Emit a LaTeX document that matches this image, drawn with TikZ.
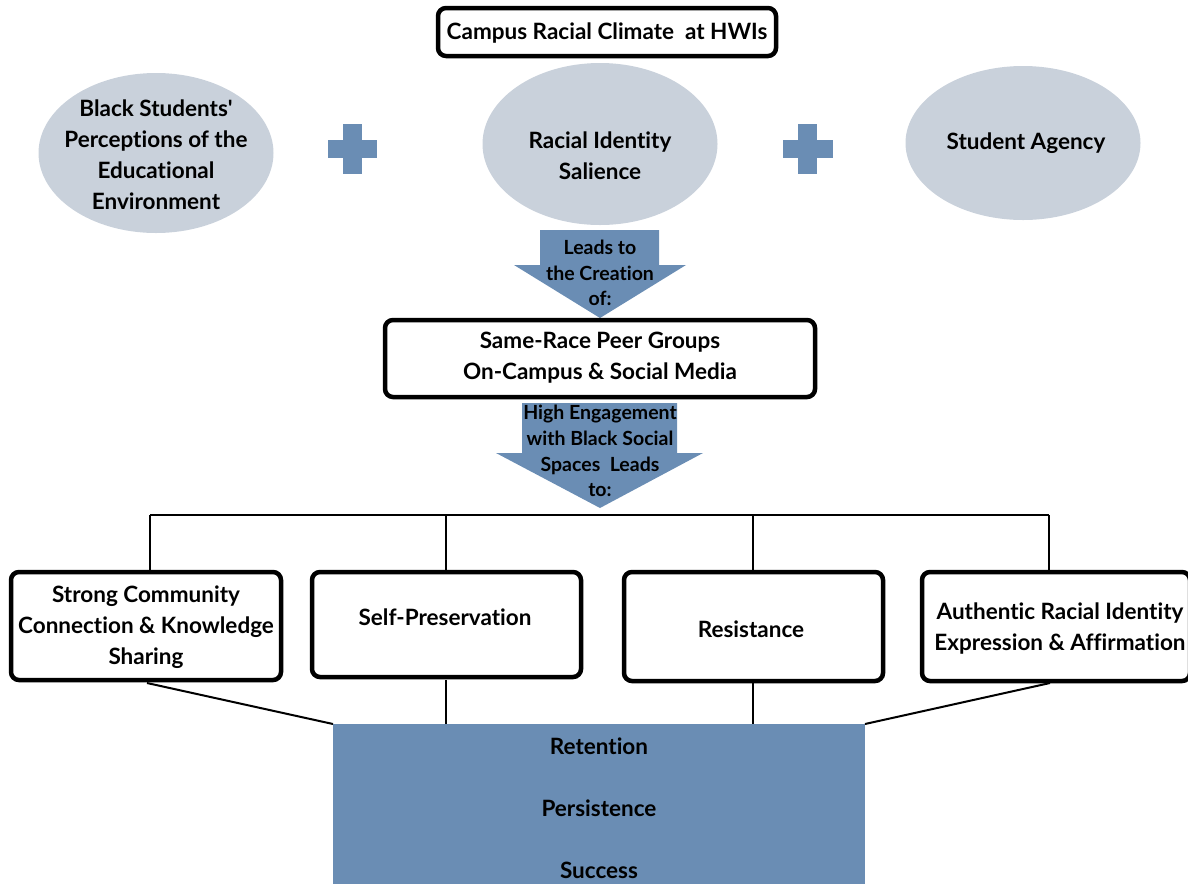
\documentclass[tikz,border=0pt]{standalone}
\usepackage{fontspec}
\setmainfont{Lato}[Ligatures={TeXOff,NoCommon}]
\usetikzlibrary{shapes.geometric}
\definecolor{ellfill}{HTML}{C9D1DB}
\definecolor{blu}{HTML}{6A8DB4}
\tikzset{
  px/.style={x=1pt,y=-1pt},
  bbox/.style={draw=black,line width=4.5pt,rounded corners=8pt,fill=white},
  oval/.style={ellipse,fill=ellfill,draw=none,inner sep=0pt},
  txt/.style={font=\fontsize{22.5}{31}\selectfont\bfseries,align=center,text=black,inner sep=0pt},
  atxt/.style={font=\fontsize{19.5}{25.8}\selectfont\bfseries,align=center,text=black,inner sep=0pt},
  conn/.style={draw=black,line width=2pt},
  plus/.style={fill=blu,draw=none},
}
\begin{document}
\begin{tikzpicture}[px]
\useasboundingbox (0,0) rectangle (1188,884);
% title
\draw[bbox] (438,8) rectangle (776,56);
\node[txt] (title) at (607,33) {Campus Racial Climate\ \ at HWIs};
% ellipses
\node[oval,minimum width=235pt,minimum height=160pt] (e1) at (156,153) {};
\node[txt] (e1t) at (156,155) {Black Students'\\Perceptions of the\\Educational\\Environment};
\node[oval,minimum width=235pt,minimum height=162pt] (e2) at (600,144) {};
\node[txt] (e2t) at (600,156) {Racial Identity\\Salience};
\node[oval,minimum width=235pt,minimum height=154pt] (e3) at (1023,143) {};
\node[txt] (e3t) at (1026,143) {Student Agency};
% plus signs
\fill[plus] (343,124) rectangle (362,174);
\fill[plus] (328,140) rectangle (377,158);
\fill[plus] (798,124) rectangle (817,174);
\fill[plus] (783,140) rectangle (833,158);
% arrow 1
\fill[blu] (540,230) -- (659,230) -- (659,265) -- (686,265) -- (600,318) -- (514,265) -- (540,265) -- cycle;
\node[atxt] (a1t) at (600,273) {Leads to\\the Creation\\of:};
% same race box
\draw[bbox] (385,320) rectangle (815,397);
\node[txt] (sr) at (600,358) {Same-Race Peer Groups\\On-Campus \& Social Media};
% arrow 2
\fill[blu] (522,403) -- (677,403) -- (677,453) -- (703,453) -- (600,508) -- (496,453) -- (522,453) -- cycle;
\node[atxt] (a2t) at (600,451) {High Engagement\\with Black Social\\Spaces\ \ Leads\\to:};
% tree
\coordinate (h1) at (150,515);
\coordinate (h2) at (446,515);
\coordinate (h3) at (753,515);
\coordinate (h4) at (1049,515);
\draw[conn] (h1) -- (h4);
% boxes
\draw[bbox] (11,572) rectangle (281,680);
\node[txt] (b1) at (146,627) {Strong Community\\Connection \& Knowledge\\Sharing};
\draw[bbox] (312,572) rectangle (581,677);
\node[txt] (b2) at (445,617) {Self-Preservation};
\draw[bbox] (624,572) rectangle (883,681);
\node[txt] (b3) at (751,629) {Resistance};
\draw[bbox] (922,572) rectangle (1190,681);
\node[txt] (b4) at (1060,629) {Authentic Racial Identity\\Expression \& Affirmation};
\coordinate (b1t) at (150,570);
\coordinate (b2t) at (446,570);
\coordinate (b3t) at (753,570);
\coordinate (b4t) at (1049,570);
\draw[conn] (h1) -- (b1t);
\draw[conn] (h2) -- (b2t);
\draw[conn] (h3) -- (b3t);
\draw[conn] (h4) -- (b4t);
% bottom rect
\fill[blu] (333,724) rectangle (865,884);
\node[txt] (r1) at (599,746) {Retention};
\node[txt] (r2) at (599,808) {Persistence};
\node[txt] (r3) at (599,870) {Success};
\coordinate (b1b) at (147,683);
\coordinate (b2b) at (446,680);
\coordinate (b3b) at (753,683);
\coordinate (b4b) at (1050,683);
\coordinate (rtl) at (333,724);
\coordinate (rtr) at (865,724);
\coordinate (rt2) at (446,724);
\coordinate (rt3) at (753,724);
\draw[conn] (b1b) -- (rtl);
\draw[conn] (b2b) -- (rt2);
\draw[conn] (b3b) -- (rt3);
\draw[conn] (b4b) -- (rtr);
\end{tikzpicture}
\end{document}
